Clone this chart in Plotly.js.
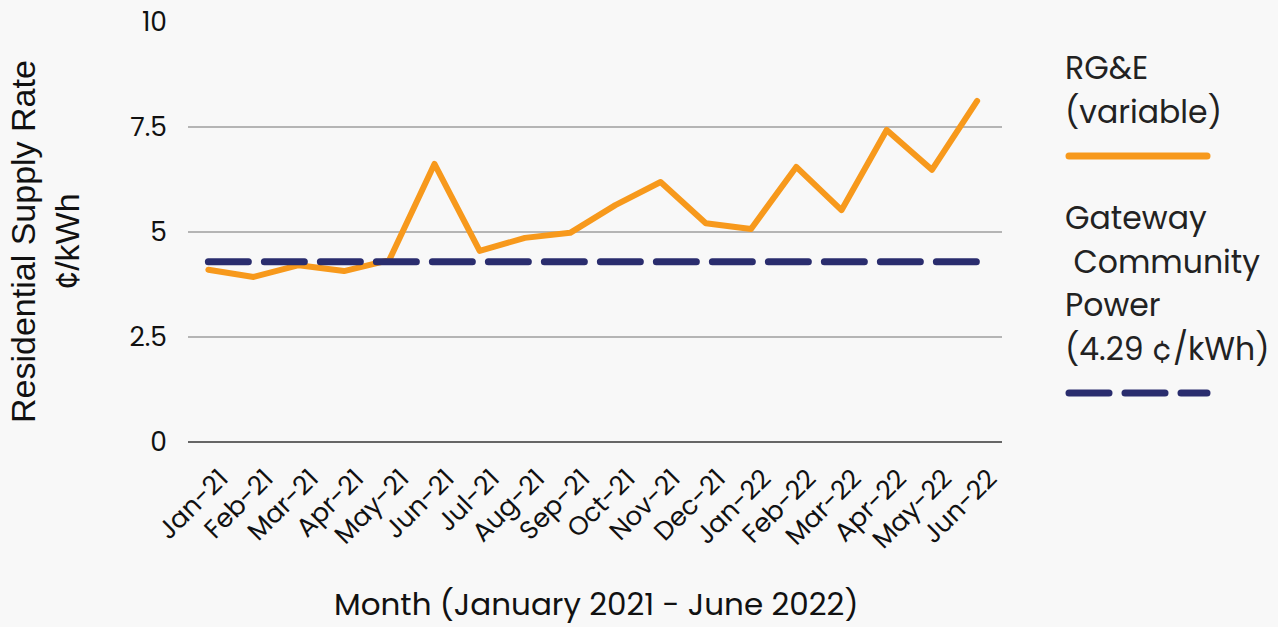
<!DOCTYPE html>
<html>
<head>
<meta charset="utf-8">
<script src="https://cdn.plot.ly/plotly-3.0.1.min.js"></script>
<style>
html,body{margin:0;padding:0;background:#f8f8f8;}
#chart{width:1278px;height:627px;}
.js-line{stroke-linecap:round;stroke-linejoin:round;}
</style>
</head>
<body>
<div id="chart"></div>
<script>
const months = ["Jan-21","Feb-21","Mar-21","Apr-21","May-21","Jun-21","Jul-21","Aug-21","Sep-21","Oct-21","Nov-21","Dec-21","Jan-22","Feb-22","Mar-22","Apr-22","May-22","Jun-22"];
const rgeRates = [4.10,3.93,4.21,4.07,4.33,6.62,4.55,4.86,4.98,5.64,6.19,5.21,5.07,6.55,5.52,7.43,6.48,8.12];
const gatewayRate = 4.29;
const gatewayRates = months.map(() => gatewayRate);
const yTicks = [0,2.5,5,7.5,10];
const yTickText = ["0","2.5","5","7.5","10"];

const tickFont = "Poppins, Inter, 'Noto Sans', sans-serif";
const orange = "#F7991C";
const navy = "#2A2D6E";

const traces = [
  {x: months, y: rgeRates, type: "scatter", mode: "lines", name: "RG&E (variable)",
   line: {color: orange, width: 6}},
  {x: months, y: gatewayRates, type: "scatter", mode: "lines", name: "Gateway Community Power (4.29 ¢/kWh)",
   line: {color: navy, width: 7, dash: "40px,16px"}}
];

const legFont = {family: tickFont, size: 31.5, color: "#222"};
function legText(text, ypx){
  return {xref: "paper", yref: "paper", x: (1063-188)/814, y: (442-ypx)/420,
    xanchor: "left", yanchor: "middle", text: text, showarrow: false, font: legFont};
}

const layout = {
  width: 1278, height: 627,
  paper_bgcolor: "#f8f8f8", plot_bgcolor: "#f8f8f8",
  margin: {l: 188, r: 276, t: 22, b: 185},
  showlegend: false,
  xaxis: {
    type: "category", range: [-0.45, 17.55],
    tickangle: -45, tickfont: {family: tickFont, size: 26, color: "#111"},
    showgrid: false, showline: false, zeroline: false, ticks: "",
    ticklabelshift: 12, ticklabelstandoff: 15
  },
  yaxis: {
    range: [0, 10], tickvals: yTicks, ticktext: yTickText,
    tickfont: {family: tickFont, size: 26.5, color: "#111"},
    showgrid: true, gridcolor: "#b5b5b5", gridwidth: 2,
    zeroline: true, zerolinecolor: "#666", zerolinewidth: 2,
    showline: false, ticks: "", ticklabelstandoff: 20
  },
  annotations: [
    {xref: "paper", yref: "paper", x: (45-188)/814, y: (442-242)/420, xanchor: "center", yanchor: "middle",
     text: "Residential Supply Rate<br>¢/kWh", textangle: -90, showarrow: false,
     font: {family: "'Liberation Sans', Arial, sans-serif", size: 34, color: "#111"}},
    {xref: "paper", yref: "paper", x: (596-188)/814, y: (442-604)/420, xanchor: "center", yanchor: "middle",
     text: "Month (January 2021 - June 2022)", showarrow: false,
     font: {family: tickFont, size: 31, color: "#111"}},
    legText("RG&E", 68),
    legText("(variable)", 112),
    legText("Gateway", 218),
    legText(" Community", 262),
    legText("Power", 305),
    legText("(4.29 ¢/kWh)", 349)
  ],
  shapes: [
    {type: "line", xref: "paper", yref: "paper", x0: (1069-188)/814, x1: (1207-188)/814,
     y0: (442-156)/420, y1: (442-156)/420, line: {color: orange, width: 7}},
    {type: "line", xref: "paper", yref: "paper", x0: (1069-188)/814, x1: (1109-188)/814,
     y0: (442-393)/420, y1: (442-393)/420, line: {color: navy, width: 7}},
    {type: "line", xref: "paper", yref: "paper", x0: (1125-188)/814, x1: (1165-188)/814,
     y0: (442-393)/420, y1: (442-393)/420, line: {color: navy, width: 7}},
    {type: "line", xref: "paper", yref: "paper", x0: (1181-188)/814, x1: (1207-188)/814,
     y0: (442-393)/420, y1: (442-393)/420, line: {color: navy, width: 7}}
  ]
};

Plotly.newPlot("chart", traces, layout, {displayModeBar: false, staticPlot: true}).then(() => {
  document.querySelectorAll(".shapelayer path").forEach(p => p.style.strokeLinecap = "round");
});
</script>
</body>
</html>
